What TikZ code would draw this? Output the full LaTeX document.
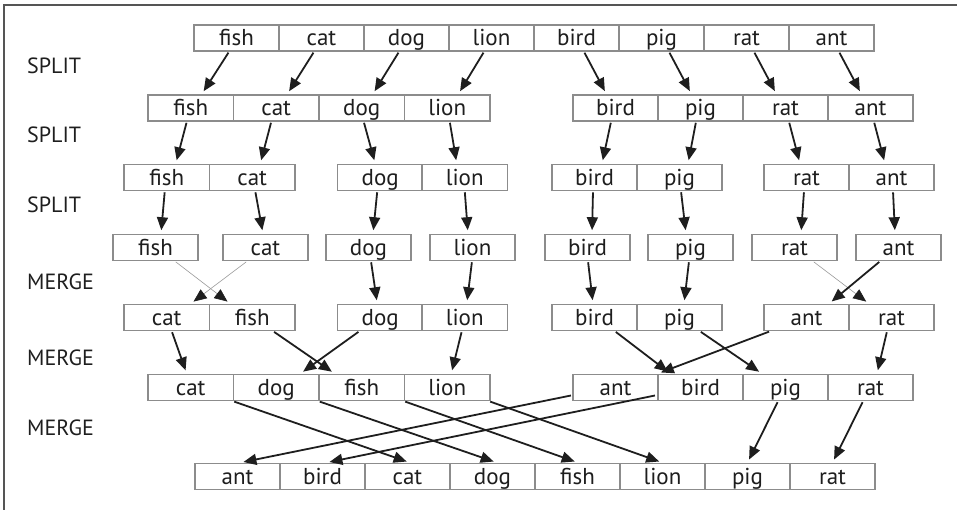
\documentclass[tikz,border=0pt]{standalone}
\usepackage{fontspec}
\setmainfont{PT Sans}
\usetikzlibrary{arrows.meta}
\definecolor{boxgray}{HTML}{8C8C8C}
\definecolor{ink}{HTML}{1E1E1E}
\definecolor{framegray}{HTML}{555555}
\tikzset{
  cell/.style={draw=boxgray, line width=1.6pt, fill=white, inner sep=0pt,
    minimum width=85.5pt, minimum height=26pt, text height=21pt, text depth=5pt,
    text=ink, font=\fontsize{23}{25}\selectfont},
  lab/.style={anchor=base west, inner sep=0pt, text=ink, font=\fontsize{22}{24}\selectfont},
  arr/.style={draw=ink, line width=1.8pt, -{Triangle[length=13pt,width=11pt]},
    shorten <=1pt, shorten >=3.5pt},
  thin/.style={draw=gray!80, line width=0.6pt,
    -{Triangle[length=13pt,width=11pt,color=ink]}, shorten <=1pt, shorten >=3.5pt},
  frameline/.style={draw=framegray, line width=1.3pt}
}
\begin{document}
\begin{tikzpicture}[x=1pt,y=-1pt]
\useasboundingbox (0,0) rectangle (957,510);
\coordinate (fc) at (4,510);
\coordinate (fa) at (4,5);
\coordinate (fb) at (957,5);
\draw[frameline] (fc) -- (fa) -- (fb);

% labels
\node[lab] (s1) at (27,74) {SPLIT};
\node[lab] (s2) at (27,143) {SPLIT};
\node[lab] (s3) at (27,213) {SPLIT};
\node[lab] (m1) at (27,290) {MERGE};
\node[lab] (m2) at (27,365) {MERGE};
\node[lab] (m3) at (27,435) {MERGE};

% row 0
\foreach \t [count=\i from 0] in {fish,cat,dog,lion,bird,pig,rat,ant}
  \node[cell] (r0\t) at ({236.5+85*\i},38) {\t};
% row 1
\foreach \t [count=\i from 0] in {fish,cat,dog,lion}
  \node[cell] (r1\t) at ({190.75+85.5*\i},108) {\t};
\foreach \t [count=\i from 0] in {bird,pig,rat,ant}
  \node[cell] (r1\t) at ({615.5+85*\i},108) {\t};
% row 2
\foreach \t/\x in {fish/166.75,cat/252.25,dog/380.25,lion/464.75,bird/594.5,pig/679.5,rat/806.5,ant/891.5}
  \node[cell] (r2\t) at (\x,177.5) {\t};
% row 3
\foreach \t/\x in {fish/155.5,cat/265.5,dog/368.5,lion/472.5,bird/587.5,pig/690.5,rat/794.5,ant/898.5}
  \node[cell] (r3\t) at (\x,247.5) {\t};
% row 4
\foreach \t/\x in {cat/166.75,fish/252.25,dog/380.25,lion/464.75,bird/594.5,pig/679.5,ant/806.5,rat/891.5}
  \node[cell] (r4\t) at (\x,317.5) {\t};
% row 5
\foreach \t/\x in {cat/190.75,dog/276.25,fish/361.75,lion/447.25,ant/615.5,bird/700.5,pig/785.5,rat/870.5}
  \node[cell] (r5\t) at (\x,387.5) {\t};
% row 6
\foreach \t [count=\i from 0] in {ant,bird,cat,dog,fish,lion,pig,rat}
  \node[cell] (r6\t) at ({237.5+85*\i},476.5) {\t};

% split 1
\foreach \t in {fish,cat,dog,lion}
  \draw[arr] ([xshift=-7.5pt]r0\t.south) -- ([xshift=11pt]r1\t.north);
\foreach \t in {bird,pig,rat,ant}
  \draw[arr] ([xshift=7.5pt]r0\t.south) -- ([xshift=-9pt]r1\t.north);
% split 2
\draw[arr] ([xshift=-4pt]r1fish.south) -- ([xshift=9pt]r2fish.north);
\draw[arr] ([xshift=-5pt]r1cat.south) -- ([xshift=8pt]r2cat.north);
\draw[arr] ([xshift=2pt]r1dog.south) -- ([xshift=-5pt]r2dog.north);
\draw[arr] ([xshift=2.5pt]r1lion.south) -- ([xshift=-8pt]r2lion.north);
\draw[arr] ([xshift=-4.5pt]r1bird.south) -- ([xshift=7.5pt]r2bird.north);
\draw[arr] ([xshift=-4.5pt]r1pig.south) -- ([xshift=8.5pt]r2pig.north);
\draw[arr] ([xshift=3.5pt]r1rat.south) -- ([xshift=-6.5pt]r2rat.north);
\draw[arr] ([xshift=3.5pt]r1ant.south) -- ([xshift=-6.5pt]r2ant.north);
% split 3
\draw[arr] ([xshift=-2pt]r2fish.south) -- ([xshift=5.5pt]r3fish.north);
\draw[arr] ([xshift=3pt]r2cat.south) -- ([xshift=-2.5pt]r3cat.north);
\draw[arr] ([xshift=-3pt]r2dog.south) -- ([xshift=4.5pt]r3dog.north);
\draw[arr] ([xshift=0pt]r2lion.south) -- ([xshift=-4.5pt]r3lion.north);
\draw[arr] ([xshift=-1.5pt]r2bird.south) -- ([xshift=4.5pt]r3bird.north);
\draw[arr] ([xshift=1.5pt]r2pig.south) -- ([xshift=-4.5pt]r3pig.north);
\draw[arr] ([xshift=-2.5pt]r2rat.south) -- ([xshift=6.5pt]r3rat.north);
\draw[arr] ([xshift=1.5pt]r2ant.south) -- ([xshift=-3.5pt]r3ant.north);
% merge 1
\draw[thin] ([xshift=19.5pt]r3fish.south) -- ([xshift=-22pt]r4fish.north);
\draw[thin] ([xshift=-18.5pt]r3cat.south) -- ([xshift=24pt]r4cat.north);
\draw[arr] ([xshift=2.5pt]r3dog.south) -- ([xshift=-3pt]r4dog.north);
\draw[arr] ([xshift=-0.5pt]r3lion.south) -- ([xshift=2pt]r4lion.north);
\draw[arr] ([xshift=0.5pt]r3bird.south) -- ([xshift=-1.5pt]r4bird.north);
\draw[arr] ([xshift=-1.5pt]r3pig.south) -- ([xshift=4.5pt]r4pig.north);
\draw[thin] ([xshift=18.5pt]r3rat.south) -- ([xshift=-22.5pt]r4rat.north);
\draw[arr] ([xshift=-18.5pt]r3ant.south) -- ([xshift=22.5pt]r4ant.north);
% merge 2
\draw[arr] ([xshift=5pt]r4cat.south) -- ([xshift=-4pt]r5cat.north);
\draw[arr] ([xshift=21pt]r4fish.south) -- ([xshift=-27pt]r5fish.north);
\draw[arr] ([xshift=-21pt]r4dog.south) -- ([xshift=24pt]r5dog.north);
\draw[arr] ([xshift=-3pt]r4lion.south) -- ([xshift=4pt]r5lion.north);
\draw[arr] ([xshift=20.5pt]r4bird.south) -- ([xshift=-30pt]r5bird.north);
\draw[arr] ([xshift=20.5pt]r4pig.south) -- ([xshift=-23.5pt]r5pig.north);
\draw[arr] ([xshift=-36.5pt]r4ant.south) -- ([xshift=42pt]r5ant.north);
\draw[arr] ([xshift=-4.5pt]r4rat.south) -- ([xshift=6.5pt]r5rat.north);
% merge 3
\draw[arr] ([xshift=-1pt]r5cat.south east) -- ([xshift=2.5pt]r6cat.north);
\draw[arr] ([xshift=-1pt]r5dog.south east) -- ([xshift=4.5pt]r6dog.north);
\draw[arr] ([xshift=-1pt]r5fish.south east) -- ([xshift=0.5pt]r6fish.north);
\draw[arr] ([xshift=-1.5pt]r5lion.south east) -- ([xshift=0pt]r6lion.north);
\draw[arr] ([yshift=6pt]r5ant.south west) -- ([xshift=2.5pt]r6ant.north);
\draw[arr] ([xshift=-1pt,yshift=6pt]r5bird.south west) -- ([xshift=3.5pt]r6bird.north);
\draw[arr] ([xshift=-7.5pt]r5pig.south) -- ([xshift=0pt]r6pig.north);
\draw[arr] ([xshift=-7.5pt]r5rat.south) -- ([xshift=0pt]r6rat.north);
\end{tikzpicture}
\end{document}
